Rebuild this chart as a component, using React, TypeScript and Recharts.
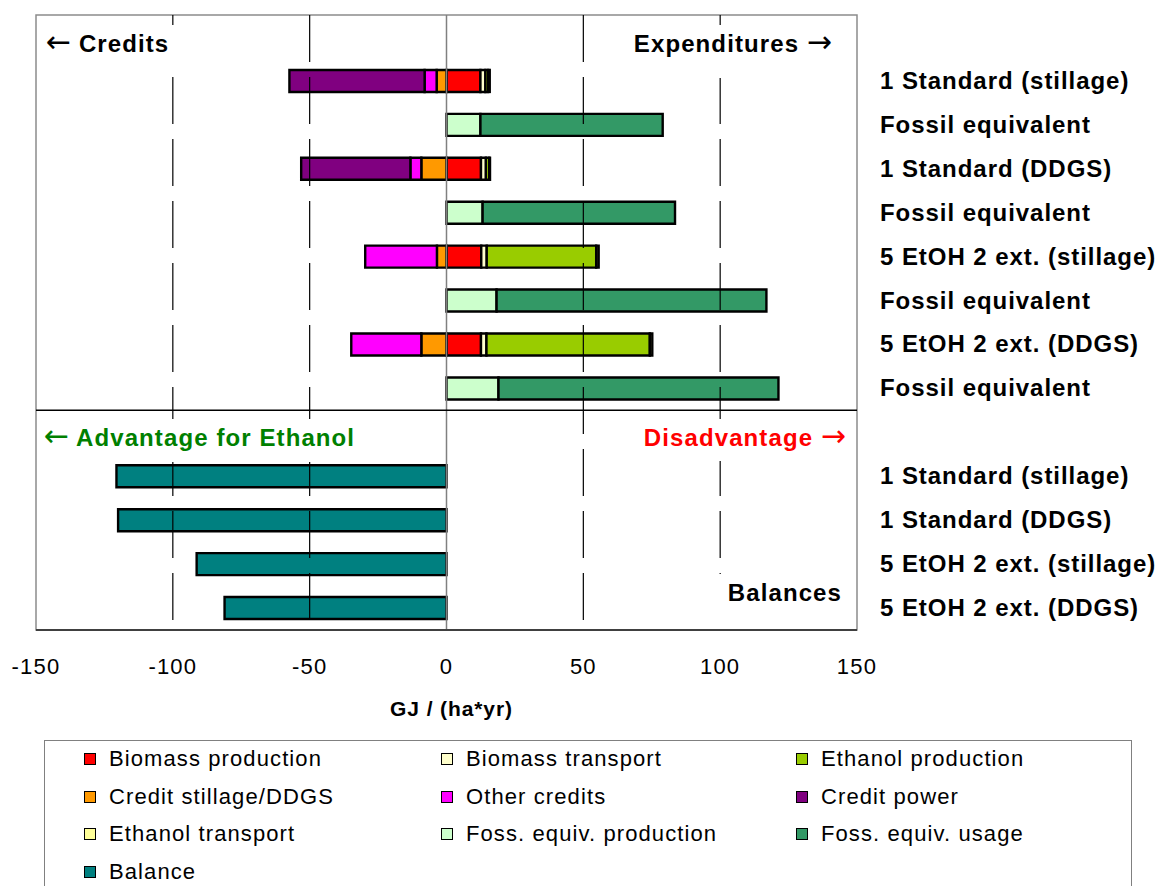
import React from 'react';
import {
  BarChart,
  Bar,
  XAxis,
  YAxis,
  ReferenceLine,
  ReferenceArea,
  Label,
} from 'recharts';

// ============================================================================
// Data (GJ / (ha*yr))
// ============================================================================

const rowIds = ['g1', 's1', 'f1', 's2', 'f2', 's3', 'f3', 's4', 'f4', 'g2', 'b1', 'b2', 'b3', 'b4'];

const rowLabels = [
  '',
  '1 Standard (stillage)',
  'Fossil equivalent',
  '1 Standard (DDGS)',
  'Fossil equivalent',
  '5 EtOH 2 ext. (stillage)',
  'Fossil equivalent',
  '5 EtOH 2 ext. (DDGS)',
  'Fossil equivalent',
  '',
  '1 Standard (stillage)',
  '1 Standard (DDGS)',
  '5 EtOH 2 ext. (stillage)',
  '5 EtOH 2 ext. (DDGS)',
];

const biomassProduction = [0, 12.4, 0, 12.6, 0, 12.7, 0, 12.6, 0, 0, 0, 0, 0, 0];
const biomassTransport = [0, 1.8, 0, 1.8, 0, 2.0, 0, 2.0, 0, 0, 0, 0, 0, 0];
const ethanolProduction = [0, 1.0, 0, 1.2, 0, 40.0, 0, 59.7, 0, 0, 0, 0, 0, 0];
const ethanolTransport = [0, 0.6, 0, 0.3, 0, 0.9, 0, 0.9, 0, 0, 0, 0, 0, 0];
const creditStillage = [0, -3.6, 0, -9.2, 0, -3.5, 0, -9.2, 0, 0, 0, 0, 0, 0];
const otherCredits = [0, -4.4, 0, -4.0, 0, -26.2, 0, -25.6, 0, 0, 0, 0, 0, 0];
const creditPower = [0, -49.4, 0, -39.9, 0, 0, 0, 0, 0, 0, 0, 0, 0, 0];
const fossProduction = [0, 0, 12.4, 0, 13.2, 0, 18.3, 0, 19.0, 0, 0, 0, 0, 0];
const fossUsage = [0, 0, 66.6, 0, 70.3, 0, 98.6, 0, 102.3, 0, 0, 0, 0, 0];
const balance = [0, 0, 0, 0, 0, 0, 0, 0, 0, 0, -120.6, -120.0, -91.3, -81.1];

const xTicks = [-150, -100, -50, 0, 50, 100, 150];
const gridValues = [-100, -50, 50, 100];

// stacking order (first = closest to zero)
const SERIES = [
  { key: 'bp', name: 'Biomass production', color: '#FF0000', values: biomassProduction },
  { key: 'bt', name: 'Biomass transport', color: '#FFFFCC', values: biomassTransport },
  { key: 'ep', name: 'Ethanol production', color: '#99CC00', values: ethanolProduction },
  { key: 'et', name: 'Ethanol transport', color: '#FFFF99', values: ethanolTransport },
  { key: 'cs', name: 'Credit stillage/DDGS', color: '#FF9900', values: creditStillage },
  { key: 'oc', name: 'Other credits', color: '#FF00FF', values: otherCredits },
  { key: 'cp', name: 'Credit power', color: '#800080', values: creditPower },
  { key: 'fp', name: 'Foss. equiv. production', color: '#CCFFCC', values: fossProduction },
  { key: 'fu', name: 'Foss. equiv. usage', color: '#339966', values: fossUsage },
  { key: 'bal', name: 'Balance', color: '#008080', values: balance },
];

// legend order as in the reference (3 columns)
const legendOrder = ['bp', 'bt', 'ep', 'cs', 'oc', 'cp', 'et', 'fp', 'fu', 'bal'];

const FONT = '"Liberation Sans", Arial, Helvetica, sans-serif';

// ============================================================================
// Ticks / shapes
// ============================================================================

function RowTick(props: any) {
  const { x, y, payload } = props;
  const label = rowLabels[rowIds.indexOf(payload.value)];
  if (!label) return null;
  return (
    <text
      x={x}
      y={y}
      dy={8}
      textAnchor="start"
      fontFamily={FONT}
      fontSize={24}
      fontWeight={700}
      letterSpacing={0.95}
      fill="#000"
    >
      {label}
    </text>
  );
}

function ValueTick(props: any) {
  const { x, y, payload } = props;
  return (
    <text
      x={x}
      y={y}
      dy={16}
      textAnchor="middle"
      fontFamily={FONT}
      fontSize={22}
      letterSpacing={1.2}
      fill="#000"
    >
      {payload.value}
    </text>
  );
}

// dashed grid line, always drawn top -> bottom so the dash phase is fixed
function DashedLine(props: any) {
  const { x1, y1, x2, y2 } = props;
  const top = Math.min(y1, y2);
  const bottom = Math.max(y1, y2);
  return (
    <line x1={x1} x2={x2} y1={top} y2={bottom} stroke="#000" strokeWidth={1.2} strokeDasharray="47 15" />
  );
}

// text boxes inside the plot (white background, like the original)
const boxText: React.CSSProperties = {
  position: 'absolute',
  background: '#fff',
  fontFamily: FONT,
  fontSize: 24,
  fontWeight: 700,
  letterSpacing: 1.1,
  lineHeight: '38px',
  whiteSpace: 'nowrap',
  boxSizing: 'border-box',
};

const arrow: React.CSSProperties = {
  fontFamily: '"DejaVu Sans", sans-serif',
  fontWeight: 400,
  fontSize: 30,
  letterSpacing: 0,
  lineHeight: '30px',
};

export default function App() {
  const data = rowIds.map((id, i) => {
    const row: Record<string, any> = { id };
    SERIES.forEach((s) => {
      row[s.key] = s.values[i];
    });
    return row;
  });

  return (
    <div
      style={{
        position: 'absolute',
        left: 0,
        top: 0,
        width: 1160,
        height: 886,
        overflow: 'hidden',
        background: '#fff',
        fontFamily: FONT,
      }}
    >
      <BarChart
        width={1160}
        height={720}
        data={data}
        layout="vertical"
        stackOffset="sign"
        barSize={22}
        margin={{ top: 15, right: 0, bottom: 0, left: 36 }}
      >
        <XAxis
          type="number"
          domain={[-150, 150]}
          ticks={xTicks}
          interval={0}
          height={90}
          tickSize={0}
          tickMargin={28}
          tickLine={false}
          axisLine={{ stroke: '#404040', strokeWidth: 2 }}
          tick={<ValueTick />}
        >
          <Label
            value="GJ / (ha*yr)"
            position="insideBottom"
            offset={4}
            dx={5}
            fontFamily={FONT}
            fontSize={21}
            fontWeight={700}
            letterSpacing={0.9}
            fill="#000"
          />
        </XAxis>
        <YAxis
          type="category"
          dataKey="id"
          orientation="right"
          width={303}
          interval={0}
          tickSize={0}
          tickMargin={23}
          tickLine={false}
          axisLine={false}
          tick={<RowTick />}
        />
        <ReferenceArea x1={-150} x2={150} fill="none" stroke="#8c8c8c" strokeWidth={1.5} />
        {gridValues.map((v) => (
          <ReferenceLine key={v} x={v} shape={<DashedLine />} />
        ))}
        <ReferenceLine x={0} stroke="#808080" strokeWidth={1.5} />
        <ReferenceLine y="g2" position="start" stroke="#000" strokeWidth={1.5} />
        {SERIES.map((s) => (
          <Bar
            key={s.key}
            dataKey={s.key}
            name={s.name}
            stackId="a"
            fill={s.color}
            stroke="#000"
            strokeWidth={2.4}
            isAnimationActive={false}
          />
        ))}
      </BarChart>

      {/* in-plot annotations */}
      <div style={{ ...boxText, left: 40, top: 25, width: 142, height: 37, paddingLeft: 6 }}>
        <span style={arrow}>←</span> Credits
      </div>
      <div
        style={{ ...boxText, left: 600, top: 25, width: 242, height: 53, paddingRight: 10, textAlign: 'right' }}
      >
        Expenditures <span style={arrow}>→</span>
      </div>
      <div style={{ ...boxText, left: 40, top: 419, width: 330, height: 43, paddingLeft: 4, color: '#008000' }}>
        <span style={arrow}>←</span> Advantage for Ethanol
      </div>
      <div
        style={{ ...boxText, left: 626, top: 419, width: 226, height: 42, paddingRight: 6, textAlign: 'right', color: '#FF0000' }}
      >
        Disadvantage <span style={arrow}>→</span>
      </div>
      <div
        style={{ ...boxText, left: 715, top: 574, width: 136, height: 54, paddingRight: 9, textAlign: 'right' }}
      >
        Balances
      </div>

      {/* legend */}
      <div
        style={{
          position: 'absolute',
          left: 44,
          top: 740,
          width: 1088,
          height: 170,
          border: '1px solid #808080',
          boxSizing: 'border-box',
        }}
      >
        {legendOrder.map((key, i) => {
          const s = SERIES.find((x) => x.key === key)!;
          const col = i % 3;
          const row = Math.floor(i / 3);
          const colX = [39, 396, 751][col];
          return (
            <div
              key={key}
              style={{
                position: 'absolute',
                left: colX,
                top: 18 + row * 37.5 - 15,
                height: 30,
                display: 'flex',
                alignItems: 'center',
                whiteSpace: 'nowrap',
              }}
            >
              <span
                style={{
                  display: 'inline-block',
                  width: 10,
                  height: 10,
                  background: s.color,
                  border: '1.5px solid #000',
                  marginRight: 13,
                }}
              />
              <span style={{ fontSize: 22, letterSpacing: 1.1, color: '#000' }}>{s.name}</span>
            </div>
          );
        })}
      </div>
    </div>
  );
}
